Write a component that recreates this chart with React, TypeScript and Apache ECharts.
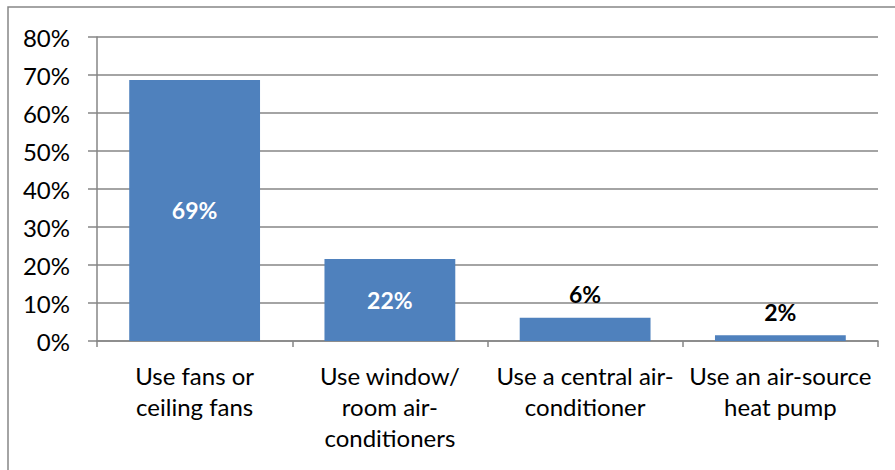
import React, { useEffect, useRef } from "react";
import * as echarts from "echarts";

const categories = [
  "Use fans or\nceiling fans",
  "Use window/\nroom air-\nconditioners",
  "Use a central air-\nconditioner",
  "Use an air-source\nheat pump",
];
const values = [68.7, 21.6, 6.1, 1.5];
const insideLabel = [true, true, false, false];
const yTicks = [0, 10, 20, 30, 40, 50, 60, 70, 80];

const FONT = "Lato, 'Open Sans', sans-serif";
const GRAY = "#868686";

export default function App() {
  const ref = useRef<HTMLDivElement>(null);
  useEffect(() => {
    document.body.style.margin = "0";
    const chart = echarts.init(ref.current!, null, { renderer: "svg" });
    chart.setOption({
      animation: false,
      backgroundColor: "#ffffff",
      textStyle: { fontFamily: FONT },
      graphic: [
        {
          type: "rect",
          shape: { x: 8, y: 7, width: 1000, height: 1000 },
          style: { fill: "none", stroke: GRAY, lineWidth: 1.5 },
          silent: true,
        },
      ],
      grid: { left: 97, right: 17, top: 37, bottom: 129, containLabel: false },
      xAxis: {
        type: "category",
        data: categories,
        axisLine: { show: true, lineStyle: { color: GRAY, width: 1.5 } },
        axisTick: { show: true, length: 6, lineStyle: { color: GRAY, width: 1.5 } },
        axisLabel: {
          interval: 0,
          color: "#000",
          fontSize: 24,
          fontFamily: FONT,
          lineHeight: 31,
          margin: 19,
        },
      },
      yAxis: {
        type: "value",
        min: yTicks[0],
        max: yTicks[yTicks.length - 1],
        interval: 10,
        axisLine: { show: true, lineStyle: { color: GRAY, width: 1.5 } },
        axisTick: { show: true, length: 9, lineStyle: { color: GRAY, width: 1.5 } },
        splitLine: { show: true, lineStyle: { color: GRAY, width: 1.5 } },
        axisLabel: {
          color: "#000",
          fontSize: 24,
          fontFamily: FONT,
          margin: 27,
          formatter: (v: number) => `${v}%`,
        },
      },
      series: [
        {
          type: "bar",
          barCategoryGap: "33%",
          itemStyle: { color: "#4F81BD" },
          data: values.map((v, i) => ({
            value: v,
            label: {
              show: true,
              position: insideLabel[i] ? "inside" : "top",
              distance: 12,
              color: insideLabel[i] ? "#ffffff" : "#000000",
              fontWeight: "bold",
              fontSize: 23,
              fontFamily: FONT,
              formatter: () => `${Math.round(v)}%`,
            },
          })),
        },
      ],
    });
    return () => chart.dispose();
  }, []);
  return <div ref={ref} style={{ width: 895, height: 470 }} />;
}
